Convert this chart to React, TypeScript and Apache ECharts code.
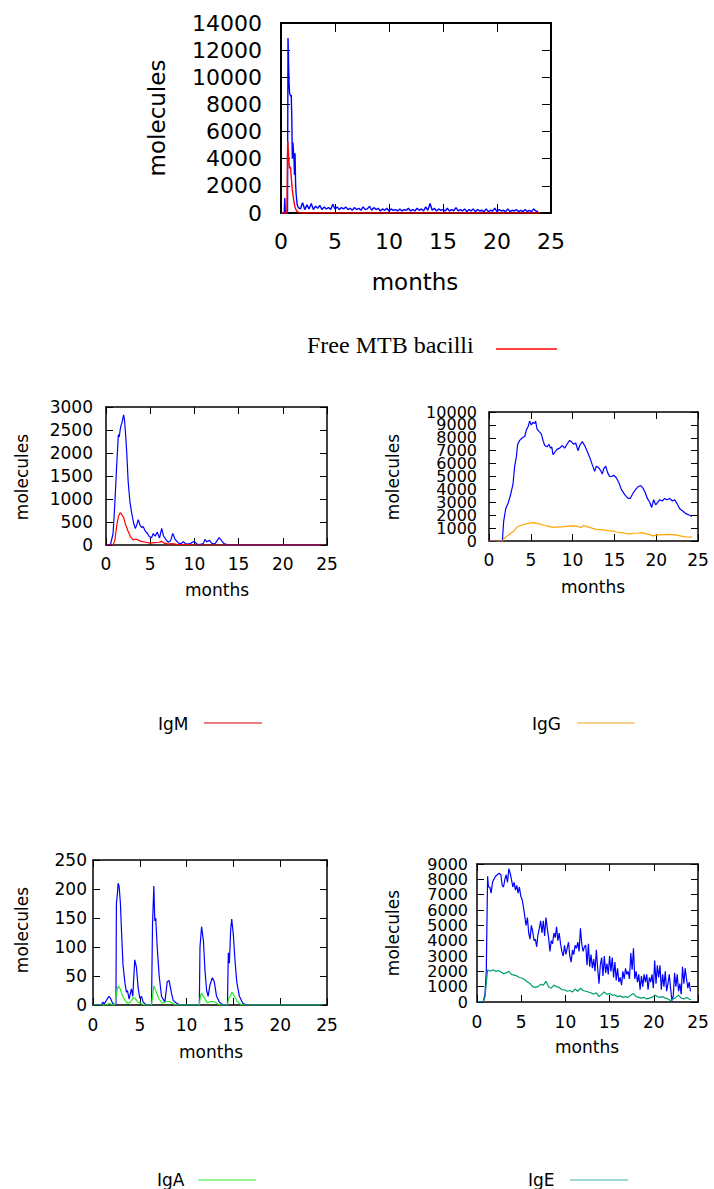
import React, { useEffect, useRef } from "react";
import * as echarts from "echarts";

type P = [number, number][];

// ---------- data (months, molecules) ----------
const mtbBlue: P = [
  [0, 0], [0.3, 0], [0.35, 1100], [0.4, 0], [0.6, 0], [0.65, 12900], [0.7, 11000], [0.75, 9500],
  [0.8, 8800], [0.9, 8600], [0.95, 8700], [1.0, 7000], [1.05, 4000], [1.1, 5200], [1.2, 4000],
  [1.25, 2800], [1.3, 4400], [1.35, 2200], [1.4, 1400], [1.45, 1000], [1.5, 600],
  [1.6, 400], [1.8, 300], [2.0, 750], [2.2, 250], [2.4, 600], [2.6, 300], [2.8, 700], [3.0, 250],
  [3.2, 500], [3.4, 350], [3.6, 550], [3.8, 250], [4.0, 450], [4.2, 300], [4.4, 400], [4.6, 250],
  [4.8, 650], [5.0, 300], [5.2, 450], [5.4, 250], [5.6, 400], [5.8, 300], [6.0, 450], [6.2, 250],
  [6.4, 350], [6.6, 200], [6.8, 400], [7.0, 250], [7.2, 350], [7.4, 200], [7.6, 450], [7.8, 250],
  [8.0, 300], [8.2, 500], [8.4, 200], [8.6, 400], [8.8, 250], [9.0, 350], [9.2, 150], [9.4, 300],
  [9.6, 200], [9.8, 350], [10.0, 150], [10.2, 300], [10.4, 200], [10.6, 250], [10.8, 150], [11.0, 300],
  [11.2, 150], [11.4, 250], [11.6, 200], [11.8, 350], [12.0, 150], [12.2, 250], [12.4, 150], [12.6, 350],
  [12.8, 200], [13.0, 300], [13.2, 150], [13.4, 450], [13.6, 200], [13.8, 700], [14.0, 200], [14.2, 350],
  [14.4, 150], [14.6, 300], [14.8, 200], [15.0, 250], [15.2, 150], [15.4, 350], [15.6, 150], [15.8, 250],
  [16.0, 150], [16.2, 400], [16.4, 150], [16.6, 250], [16.8, 150], [17.0, 300], [17.2, 100], [17.4, 250],
  [17.6, 150], [17.8, 300], [18.0, 100], [18.2, 250], [18.4, 150], [18.6, 200], [18.8, 100], [19.0, 300],
  [19.2, 100], [19.4, 200], [19.6, 150], [19.8, 350], [20.0, 100], [20.2, 250], [20.4, 150], [20.6, 200],
  [20.8, 100], [21.0, 300], [21.2, 100], [21.4, 200], [21.6, 150], [21.8, 250], [22.0, 100], [22.2, 200],
  [22.4, 100], [22.6, 250], [22.8, 100], [23.0, 200], [23.2, 100], [23.4, 300], [23.6, 150], [23.8, 100],
];
const mtbFree: P = [
  [0, 0], [0.55, 0], [0.62, 5300], [0.7, 4200], [0.78, 3300], [0.88, 3400], [0.95, 2600], [1.05, 1700],
  [1.15, 1100], [1.25, 600], [1.35, 300], [1.5, 100], [1.7, 30], [2, 0], [24, 0],
];

const igmBlue: P = [
  [0, 0], [0.5, 0], [0.8, 250], [1.0, 900], [1.2, 1700], [1.4, 2400], [1.5, 2350], [1.6, 2500],
  [1.7, 2600], [1.8, 2650], [1.9, 2750], [2.0, 2830], [2.1, 2700], [2.2, 2450], [2.35, 2000], [2.5, 1400],
  [2.7, 950], [2.9, 700], [3.1, 500], [3.3, 360], [3.45, 420], [3.65, 550], [3.85, 430], [4.05, 380],
  [4.2, 400], [4.45, 300], [4.7, 250], [4.9, 180], [5.15, 160], [5.35, 250], [5.55, 190], [5.8, 280],
  [6.05, 150], [6.3, 360], [6.5, 200], [6.8, 110], [7.05, 60], [7.3, 90], [7.55, 250], [7.8, 130],
  [8.2, 40], [8.5, 30], [8.75, 70], [9.05, 20], [9.5, 30], [10.0, 80], [10.3, 20], [10.6, 10],
  [11.0, 30], [11.2, 120], [11.4, 70], [11.7, 100], [11.95, 40], [12.3, 20], [12.8, 160], [13.1, 90],
  [13.35, 30], [13.7, 10], [14.0, 0], [24.5, 0],
];
const igm: P = [
  [0, 0], [0.8, 0], [1.0, 100], [1.2, 400], [1.4, 620], [1.6, 700], [1.7, 690], [1.8, 650], [2.0, 600],
  [2.2, 450], [2.5, 300], [2.8, 170], [3.1, 110], [3.4, 130], [3.7, 100], [4.0, 80], [4.5, 60], [5.0, 40],
  [5.5, 50], [6.0, 60], [6.3, 80], [6.6, 40], [7.0, 20], [7.5, 30], [8.0, 15], [9.0, 10], [10, 5],
  [12, 0], [24.5, 0],
];

const iggBlue: P = [
  [0, 0], [1.6, 0], [1.75, 1500], [2.0, 2500], [2.27, 2900], [2.55, 3500], [2.87, 4400], [3.07, 5800],
  [3.27, 6500], [3.43, 7500], [3.67, 7800], [3.99, 8000], [4.27, 8100], [4.47, 8600], [4.7, 8900],
  [4.86, 9300], [5.06, 9000], [5.26, 9200], [5.46, 9100], [5.58, 9300], [5.74, 8700], [5.98, 8500],
  [6.26, 8300], [6.46, 7800], [6.66, 7400], [6.94, 7300], [7.18, 7500], [7.34, 7200], [7.5, 7300],
  [7.66, 6700], [7.9, 6900], [8.13, 7100], [8.45, 7200], [8.77, 7400], [9.05, 7200], [9.33, 7500],
  [9.65, 7800], [9.85, 7700], [10.13, 7500], [10.37, 7600], [10.65, 7000], [10.85, 7400], [11.16, 7700],
  [11.44, 7400], [11.72, 7000], [12.04, 6500], [12.36, 5900], [12.64, 5400], [12.84, 5800], [13.08, 5700],
  [13.32, 5500], [13.56, 5200], [13.72, 5600], [13.96, 5800], [14.19, 5300], [14.43, 5000], [14.67, 5000],
  [14.91, 5100], [15.23, 4900], [15.55, 4500], [15.83, 4000], [16.23, 3600], [16.63, 3300], [16.9, 3300],
  [17.22, 3700], [17.54, 4000], [17.82, 4200], [18.14, 4300], [18.42, 4100], [18.66, 3800], [18.94, 3300],
  [19.22, 3000], [19.46, 2600], [19.7, 3200], [19.94, 2800], [20.18, 3000], [20.41, 3200], [20.73, 3100],
  [21.01, 3300], [21.29, 3200], [21.61, 3300], [21.93, 3100], [22.21, 3200], [22.49, 2900], [22.81, 2500],
  [23.21, 2300], [23.6, 2100], [24.0, 2000], [24.28, 1900],
];
const igg: P = [
  [0, 0], [1.6, 0], [1.8, 200], [2.2, 400], [2.6, 600], [3.0, 800], [3.4, 1100], [3.8, 1200], [4.2, 1300],
  [4.6, 1350], [5.0, 1400], [5.4, 1420], [5.8, 1350], [6.2, 1300], [6.6, 1200], [7.0, 1150], [7.4, 1100],
  [7.8, 1050], [8.2, 1100], [8.6, 1100], [9.0, 1120], [9.5, 1150], [10, 1180], [10.5, 1150], [11, 1050],
  [11.3, 1200], [11.8, 1100], [12.3, 1000], [12.8, 900], [13.3, 880], [13.8, 850], [14.3, 800], [14.8, 780],
  [15.3, 700], [15.8, 650], [16.3, 600], [16.8, 530], [17.3, 600], [17.8, 620], [18.3, 650], [18.8, 550],
  [19.3, 480], [19.6, 400], [20.0, 450], [20.5, 480], [21, 500], [21.5, 520], [22, 500], [22.5, 450],
  [23, 380], [23.5, 320], [24.3, 300],
];

const igaBlue: P = [
  [0, 0], [0.9, 0], [1.05, 5], [1.2, 2], [1.5, 10], [1.7, 15], [1.85, 12], [2.1, 3], [2.35, 0],
  [2.45, 0], [2.5, 175], [2.6, 190], [2.68, 210], [2.79, 205], [2.93, 175], [3.04, 130], [3.2, 70],
  [3.4, 40], [3.57, 22], [3.68, 25], [3.86, 10], [4.1, 28], [4.25, 15], [4.46, 78], [4.64, 65],
  [4.82, 30], [5.0, 12], [5.18, 15], [5.36, 5], [5.7, 0], [6.25, 0], [6.36, 140], [6.5, 205], [6.6, 145],
  [6.7, 150], [6.86, 100], [7.07, 50], [7.32, 15], [7.68, 5], [7.93, 40], [8.14, 42], [8.39, 20],
  [8.57, 8], [8.93, 3], [9.3, 0], [11.36, 0], [11.43, 100], [11.6, 135], [11.8, 110], [11.96, 60],
  [12.14, 25], [12.3, 15], [12.5, 35], [12.75, 47], [12.96, 40], [13.2, 15], [13.5, 5], [13.9, 0],
  [14.36, 0], [14.46, 90], [14.57, 72], [14.71, 130], [14.82, 148], [15.0, 120], [15.18, 75], [15.36, 40],
  [15.64, 15], [16.0, 3], [16.4, 0], [24.5, 0],
];
const iga: P = [
  [0, 0], [1.5, 0], [1.7, 3], [2.0, 1], [2.35, 0], [2.5, 20], [2.7, 33], [2.9, 28], [3.1, 18], [3.4, 8],
  [3.7, 3], [4.0, 5], [4.3, 13], [4.5, 12], [4.8, 5], [5.2, 2], [5.6, 0], [6.25, 0], [6.4, 20], [6.5, 33],
  [6.7, 25], [7.0, 12], [7.4, 3], [7.9, 6], [8.2, 6], [8.6, 2], [9, 0], [11.36, 0], [11.5, 18], [11.6, 20],
  [11.9, 12], [12.2, 4], [12.6, 6], [12.9, 6], [13.3, 2], [13.7, 0], [14.36, 0], [14.5, 12], [14.65, 15],
  [14.85, 22], [15.1, 15], [15.4, 6], [15.8, 1], [16.2, 0], [24.5, 0],
];

const igeBlue: P = [
  [0, 0], [0.7, 0], [0.9, 500], [1.05, 2000], [1.2, 8200], [1.3, 7500], [1.45, 7500], [1.6, 7100],
  [1.75, 7800], [1.9, 8000], [2.1, 8200], [2.3, 8300], [2.5, 8400], [2.7, 8300], [2.85, 7600], [3.0, 7500],
  [3.15, 8000], [3.3, 8300], [3.45, 7800], [3.6, 8700], [3.75, 8400], [3.9, 8000], [4.05, 7500], [4.2, 7800],
  [4.35, 7300], [4.5, 7600], [4.65, 7100], [4.8, 7500], [4.95, 6900], [5.1, 6700], [5.25, 6200], [5.4, 5600],
  [5.55, 5000], [5.7, 5500], [5.85, 4500], [6.0, 4100], [6.15, 5000], [6.3, 4600], [6.45, 4000], [6.6, 4100],
  [6.75, 3600], [6.9, 4400], [7.05, 4800], [7.2, 5300], [7.35, 4500], [7.5, 5300], [7.65, 4300], [7.8, 5500],
  [7.95, 4800], [8.1, 4200], [8.25, 3300], [8.4, 4000], [8.55, 3800], [8.7, 4500], [8.85, 4200], [9.0, 4900],
  [9.15, 4000], [9.3, 4500], [9.45, 3800], [9.6, 3300], [9.75, 3000], [9.9, 3700], [10.05, 3100], [10.2, 3500],
  [10.35, 3900], [10.5, 3000], [10.65, 2600], [10.8, 3400], [10.95, 3100], [11.1, 3700], [11.25, 3500],
  [11.4, 3900], [11.55, 3300], [11.7, 4800], [11.85, 3800], [12.0, 3300], [12.15, 3600], [12.3, 3700],
  [12.45, 2400], [12.6, 3800], [12.75, 2300], [12.9, 3100], [13.05, 2200], [13.2, 2800], [13.35, 2000],
  [13.5, 3400], [13.65, 2200], [13.8, 1200], [13.95, 2400], [14.1, 2900], [14.25, 1700], [14.4, 3000],
  [14.55, 1900], [14.7, 2500], [14.85, 1800], [15.0, 3000], [15.15, 2000], [15.3, 2900], [15.45, 1600],
  [15.6, 2600], [15.75, 1400], [15.9, 2200], [16.05, 1300], [16.2, 1600], [16.35, 1100], [16.5, 2000],
  [16.65, 1500], [16.8, 2200], [16.95, 1800], [17.1, 2000], [17.25, 1500], [17.4, 3200], [17.55, 2100],
  [17.7, 3500], [17.85, 1500], [18.0, 2000], [18.15, 1300], [18.3, 1800], [18.45, 800], [18.6, 1700],
  [18.75, 1000], [18.9, 1800], [19.05, 1300], [19.2, 1800], [19.35, 800], [19.5, 1600], [19.65, 1300],
  [19.8, 1800], [19.95, 900], [20.1, 2700], [20.25, 1200], [20.4, 2400], [20.55, 1600], [20.7, 2400],
  [20.85, 800], [21.0, 1800], [21.15, 1000], [21.3, 2000], [21.45, 700], [21.6, 1200], [21.75, 1800],
  [21.9, 900], [22.05, 100], [22.2, 400], [22.35, 1900], [22.5, 1000], [22.65, 1800], [22.8, 700],
  [22.95, 1200], [23.1, 500], [23.25, 2300], [23.4, 1200], [23.55, 2200], [23.7, 1500], [23.85, 900],
  [24.0, 1300], [24.15, 700],
];
const ige: P = [
  [0, 0], [0.7, 0], [0.9, 300], [1.05, 1200], [1.2, 2100], [1.5, 2000], [1.8, 2100], [2.1, 2000],
  [2.4, 2050], [2.7, 1950], [3.0, 1850], [3.3, 1900], [3.6, 2000], [3.9, 1800], [4.2, 1750], [4.5, 1700],
  [4.8, 1600], [5.1, 1550], [5.4, 1450], [5.7, 1300], [6.0, 1200], [6.3, 1000], [6.6, 950], [6.9, 1000],
  [7.2, 1150], [7.5, 1100], [7.8, 1350], [8.1, 1000], [8.4, 900], [8.7, 1100], [9.0, 1000], [9.3, 950],
  [9.6, 800], [9.9, 800], [10.2, 700], [10.5, 750], [10.8, 650], [11.1, 850], [11.4, 700], [11.7, 900],
  [12.0, 750], [12.3, 700], [12.6, 650], [12.9, 600], [13.2, 500], [13.5, 600], [13.8, 350], [14.1, 500],
  [14.4, 650], [14.7, 500], [15.0, 550], [15.3, 450], [15.6, 450], [15.9, 350], [16.2, 400], [16.5, 300],
  [16.8, 350], [17.1, 300], [17.4, 450], [17.7, 550], [18.0, 350], [18.3, 300], [18.6, 250], [18.9, 300],
  [19.2, 200], [19.5, 250], [19.8, 300], [20.1, 450], [20.4, 350], [20.7, 300], [21.0, 350], [21.3, 250],
  [21.6, 200], [21.9, 100], [22.2, 200], [22.5, 300], [22.8, 450], [23.1, 250], [23.4, 200], [23.7, 300],
  [24.0, 200], [24.2, 150],
];

const legendNames = ["Free MTB bacilli", "IgM", "IgG", "IgA", "IgE"];
const xTitle = "months";
const yTitle = "molecules";
const yMaxes = [14000, 3000, 10000, 250, 9000];
const ySteps = [2000, 500, 1000, 50, 1000];

// ---------- layout ----------
const SANS = '"DejaVu Sans", sans-serif';
const SERIF = '"Liberation Serif", "Times New Roman", serif';

const panels = [
  { grid: { left: 281, top: 23, width: 270, height: 190 }, tickFont: 22, yFont: 22, titleFont: 23, tickLen: 9, border: 2,
    yMargin: 19, xMargin: 17, monthsAt: [415, 282], moleculesAt: [157, 118], lw: 1.4, split: false,
    series: [{ data: mtbBlue, color: "#0000ff" }, { data: mtbFree, color: "#ff0000" }] },
  { grid: { left: 106, top: 407, width: 221, height: 138 }, tickFont: 17, yFont: 17, titleFont: 17, tickLen: 7, border: 1.5,
    yMargin: 13, xMargin: 10, monthsAt: [217, 590], moleculesAt: [22, 477], lw: 1.2, split: false,
    series: [{ data: igmBlue, color: "#0000ff" }, { data: igm, color: "#ff0000" }] },
  { grid: { left: 489, top: 412, width: 209, height: 129 }, tickFont: 17, yFont: 16, titleFont: 17, tickLen: 7, border: 1.5,
    yMargin: 12, xMargin: 10, monthsAt: [593, 587], moleculesAt: [393, 477], lw: 1.2, split: true,
    series: [{ data: iggBlue, color: "#0000ff" }, { data: igg, color: "#ffa500" }] },
  { grid: { left: 93, top: 860, width: 234, height: 145 }, tickFont: 17, yFont: 17, titleFont: 17, tickLen: 7, border: 1.5,
    yMargin: 6, xMargin: 11, monthsAt: [211, 1052], moleculesAt: [22, 930], lw: 1.2, split: false,
    series: [{ data: igaBlue, color: "#0000ff" }, { data: iga, color: "#22ee22" }] },
  { grid: { left: 477, top: 864, width: 221, height: 138 }, tickFont: 17, yFont: 16, titleFont: 17, tickLen: 7, border: 1.5,
    yMargin: 9, xMargin: 11, monthsAt: [587, 1047], moleculesAt: [393, 933], lw: 1.2, split: true,
    series: [{ data: igeBlue, color: "#0000ff" }, { data: ige, color: "#009e73" }] },
];

const legends = [
  { text: legendNames[0], x: 307, y: 345, font: SERIF, size: 24, line: [496, 557, 349], color: "#ff0000", lw: 1.6 },
  { text: legendNames[1], x: 158, y: 724, font: SANS, size: 17, line: [204, 262, 723], color: "#d40000", lw: 1 },
  { text: legendNames[2], x: 532, y: 724, font: SANS, size: 17, line: [577, 635, 723], color: "#f5a623", lw: 1 },
  { text: legendNames[3], x: 157, y: 1180, font: SANS, size: 17, line: [198, 256, 1180], color: "#33ee33", lw: 1 },
  { text: legendNames[4], x: 528, y: 1180, font: SANS, size: 17, line: [570, 628, 1180], color: "#3fb5a3", lw: 1 },
];

const Y_PER_PANEL = 3;

function buildOption() {
  const grid: any[] = [];
  const xAxis: any[] = [];
  const yAxis: any[] = [];
  const series: any[] = [];
  const graphic: any[] = [];

  panels.forEach((p, i) => {
    grid.push({ ...p.grid, containLabel: false });
    const step = ySteps[i];
    const line = { show: true, onZero: false, lineStyle: { color: "#000", width: p.border } };
    const tick = { show: true, inside: true, length: p.tickLen, lineStyle: { color: "#000", width: 1 } };
    const label = { color: "#000", fontFamily: SANS, showMinLabel: true, showMaxLabel: true, hideOverlap: false };
    const xBase = { type: "value", gridIndex: i, min: 0, max: 25, interval: 5, splitLine: { show: false }, axisLine: line, axisTick: tick };
    xAxis.push({ ...xBase, position: "bottom", axisLabel: { ...label, fontSize: p.tickFont, margin: p.xMargin, formatter: (v: number) => String(v) } });
    xAxis.push({ ...xBase, position: "top", axisLabel: { show: false } });

    const yBase = { type: "value", gridIndex: i, min: 0, max: yMaxes[i], interval: step, splitLine: { show: false } };
    // even-step labels (or all labels if not split)
    const evenFmt = (v: number) => (!p.split || Math.round(v / step) % 2 === 0 ? String(v) : "");
    const oddFmt = (v: number) => (p.split && Math.round(v / step) % 2 === 1 ? String(v) : "");
    yAxis.push({ ...yBase, position: "left", axisLine: line, axisTick: tick,
      axisLabel: { ...label, fontSize: p.yFont, margin: p.yMargin, formatter: evenFmt } });
    yAxis.push({ ...yBase, position: "right", axisLine: line, axisTick: tick, axisLabel: { show: false } });
    yAxis.push({ ...yBase, position: "left", offset: 0, axisLine: { show: false }, axisTick: { show: false },
      axisLabel: { ...label, show: p.split, fontSize: p.yFont, margin: p.yMargin, formatter: oddFmt } });

    p.series.forEach((s) => {
      series.push({
        type: "line",
        xAxisIndex: i * 2,
        yAxisIndex: i * Y_PER_PANEL,
        data: s.data,
        showSymbol: false,
        symbol: "none",
        clip: true,
        lineStyle: { color: s.color, width: p.lw },
      });
    });

    graphic.push({
      type: "text", x: p.monthsAt[0], y: p.monthsAt[1],
      style: { text: xTitle, fontFamily: SANS, fontSize: p.titleFont, fill: "#000", align: "center", verticalAlign: "middle" },
    });
    graphic.push({
      type: "text", x: p.moleculesAt[0], y: p.moleculesAt[1], rotation: Math.PI / 2,
      style: { text: yTitle, fontFamily: SANS, fontSize: p.titleFont, fill: "#000", align: "center", verticalAlign: "middle" },
    });
  });

  legends.forEach((l) => {
    graphic.push({
      type: "text", x: l.x, y: l.y,
      style: { text: l.text, fontFamily: l.font, fontSize: l.size, fill: "#000", align: "left", verticalAlign: "middle" },
    });
    graphic.push({
      type: "line",
      shape: { x1: l.line[0], y1: l.line[2], x2: l.line[1], y2: l.line[2] },
      style: { stroke: l.color, lineWidth: l.lw },
    });
  });

  return { animation: false, backgroundColor: "#fff", grid, xAxis, yAxis, series, graphic };
}

export default function App() {
  const ref = useRef<HTMLDivElement>(null);
  useEffect(() => {
    document.body.style.margin = "0";
    if (!ref.current) return;
    const chart = echarts.init(ref.current, undefined, { renderer: "svg" });
    chart.setOption(buildOption());
    return () => chart.dispose();
  }, []);
  return <div ref={ref} style={{ width: 714, height: 1189, background: "#fff" }} />;
}
